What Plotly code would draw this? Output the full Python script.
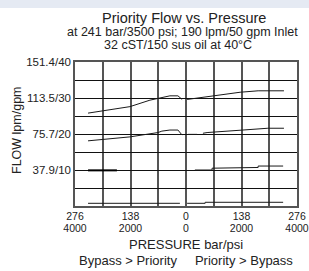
import plotly.graph_objects as go

# ---- data (psi, gpm) ----
x_ticks = [-4000, -2000, 0, 2000, 4000]
bar_labels = ["276", "138", "0", "138", "276"]
psi_labels = ["4000", "2000", "0", "2000", "4000"]
y_ticks = [10, 20, 30, 40]
y_ticktext = ["37.9/10", "75.7/20", "113.5/30", "151.4/40"]

upper_x = [-3530, -2020, -1300, -1010, -760, -580, -290, -140, None, 40, 320, 870, 1950, 2600, 3530]
upper_y = [25.8, 27.6, 29.4, 29.9, 30.4, 30.6, 30.6, 29.6, None, 29.6, 29.9, 30.6, 31.6, 32.0, 32.0]

middle_x = [-3530, -2020, -1010, -870, -580, -290, -140, None, 70, 400, None, 610, 760, 2050, 2950, 3530]
middle_y = [18.1, 19.2, 20.4, 20.8, 21.1, 21.1, 19.7, None, 19.9, 19.9, None, 20.2, 20.4, 21.1, 21.6, 21.6]

low_left_x = [-3530, -2490]
low_left_y = [9.9, 9.9]
low_right_x = [320, 940, 940, 1660, 1660, 2600, 2600, 3500]
low_right_y = [10.0, 10.0, 10.5, 10.5, 10.7, 10.7, 11.1, 11.1]

bottom_x = [-3530, -220, None, 40, 690, 690, 3500]
bottom_y = [0.75, 0.75, None, 0.75, 0.75, 1.03, 1.03]

fig = go.Figure()
line_style = dict(color="#1a1a1a", width=1)
fig.add_trace(go.Scatter(x=upper_x, y=upper_y, mode="lines", line=line_style))
fig.add_trace(go.Scatter(x=middle_x, y=middle_y, mode="lines", line=line_style))
fig.add_trace(go.Scatter(x=low_left_x, y=low_left_y, mode="lines", line=dict(color="#000000", width=2)))
fig.add_trace(go.Scatter(x=low_right_x, y=low_right_y, mode="lines", line=line_style))
fig.add_trace(go.Scatter(x=bottom_x, y=bottom_y, mode="lines", line=line_style))
# invisible trace so the second (psi) tick row is drawn
fig.add_trace(go.Scatter(x=[x_ticks[0], x_ticks[-1]], y=[None, None], mode="lines", xaxis="x2", hoverinfo="skip"))

font = "Liberation Sans, Arial, sans-serif"
fig.update_layout(
    width=309, height=271,
    margin=dict(l=75, r=12, t=62, b=65),
    paper_bgcolor="white", plot_bgcolor="white",
    showlegend=False,
    font=dict(family=font, color="#222222"),
    xaxis=dict(
        range=[-4000, 4000], tickvals=x_ticks, ticktext=bar_labels, automargin=False,
        showgrid=False, zeroline=False, ticks="", ticklabelstandoff=0,
        tickfont=dict(size=10.5), showline=True, linecolor="#555555", linewidth=1.5, mirror=True,
        minor=dict(tickvals=list(range(-3000, 4000, 1000)), showgrid=True, gridcolor="#555555", gridwidth=1.5, ticks=""),
        fixedrange=True,
    ),
    xaxis2=dict(
        range=[-4000, 4000], tickvals=x_ticks, ticktext=psi_labels, automargin=False,
        overlaying="x", side="bottom", anchor="y",
        showgrid=False, zeroline=False, ticks="", showline=False, ticklabelstandoff=14,
        tickfont=dict(size=10.5), fixedrange=True,
    ),
    yaxis=dict(
        range=[0, 40], tickvals=y_ticks, ticktext=y_ticktext, automargin=False,
        showgrid=True, gridcolor="#111111", gridwidth=1, zeroline=False, ticks="",
        tickfont=dict(size=11.5), showline=True, linecolor="#555555", linewidth=1.5, mirror=True,
        minor=dict(tickvals=[5, 15, 25, 35], showgrid=True, gridcolor="#111111", gridwidth=1, ticks=""),
        fixedrange=True,
    ),
    shapes=[dict(type="rect", xref="paper", yref="paper", x0=-0.4, x1=1.1,
                 y0=(206 - 8) / 144, y1=1.5, fillcolor="#e5eaf3", line=dict(width=0), layer="below")],
    annotations=[
        dict(text="Priority Flow vs. Pressure", x=(184 - 75) / 222, y=(206 - 18) / 144, xref="paper", yref="paper",
             showarrow=False, font=dict(size=14.5), xanchor="center", yanchor="middle"),
        dict(text="at 241 bar/3500 psi; 190 lpm/50 gpm Inlet", x=(182 - 75) / 222, y=(206 - 32) / 144, xref="paper", yref="paper",
             showarrow=False, font=dict(size=12.5), xanchor="center", yanchor="middle"),
        dict(text="32 cST/150 sus oil at 40°C", x=(178 - 75) / 222, y=(206 - 45) / 144, xref="paper", yref="paper",
             showarrow=False, font=dict(size=12.5), xanchor="center", yanchor="middle"),
        dict(text="FLOW lpm/gpm", x=(17 - 75) / 222, y=(206 - 130) / 144, xref="paper", yref="paper",
             showarrow=False, font=dict(size=12.5), xanchor="center", yanchor="middle", textangle=-90),
        dict(text="PRESSURE bar/psi", x=(186 - 75) / 222, y=(206 - 244) / 144, xref="paper", yref="paper",
             showarrow=False, font=dict(size=13), xanchor="center", yanchor="middle"),
        dict(text="Bypass > Priority     Priority > Bypass", x=(186 - 75) / 222, y=(206 - 260) / 144, xref="paper", yref="paper",
             showarrow=False, font=dict(size=13), xanchor="center", yanchor="middle"),
    ],
)

fig.write_html("out.html", config={"displayModeBar": False},
               post_script="document.body.style.margin='0';document.body.style.overflow='hidden';")
